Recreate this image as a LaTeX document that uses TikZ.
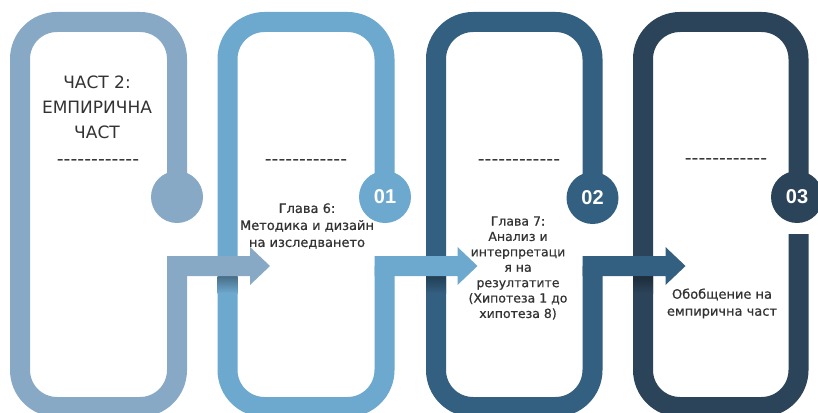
\documentclass[tikz,border=0pt]{standalone}
\usepackage{fontspec}
\newfontfamily\headfont{DejaVu Sans}
\newfontfamily\bodyfont[FakeBold=0.6]{DejaVu Sans}
\newfontfamily\numfont{Liberation Sans}
\definecolor{pa}{HTML}{87A9C5}
\definecolor{pb}{HTML}{6DA8CE}
\definecolor{pc}{HTML}{335F80}
\definecolor{pd}{HTML}{2C4459}
\definecolor{txt}{HTML}{333333}
\tikzset{
  band/.style={line width=20pt, rounded corners=37pt},
  numdot/.style={circle, inner sep=0pt, minimum size=52pt, text=white,
    font=\numfont\bfseries\fontsize{20}{20}\selectfont},
  headtxt/.style={align=center, inner sep=0pt, text=txt,
    font=\headfont\fontsize{17}{25}\selectfont},
  dashtxt/.style={inner sep=0pt, text=txt, font=\headfont\fontsize{19}{19}\selectfont},
  bodytxt/.style={align=center, inner sep=0pt, text=txt}
}
\begin{document}
\begin{tikzpicture}[x=1pt,y=-1pt]
\path[use as bounding box, clip] (0,0) rectangle (818,412);
\fill[white] (0,0) rectangle (818,412);

% panels
\draw[band, draw=pa] (177,197) -- (177,22) -- (20,22) -- (20,407) -- (177,407) -- (177,266);
\draw[band, draw=pb] (384.5,197) -- (384.5,22) -- (227.5,22) -- (227.5,407) -- (384.5,407) -- (384.5,266);
\draw[band, draw=pc] (592.5,197) -- (592.5,22) -- (436,22) -- (436,407) -- (592.5,407) -- (592.5,266);
\draw[band, draw=pd] (798.5,197) -- (798.5,22) -- (643,22) -- (643,407) -- (798.5,407) -- (798.5,234);

% shadows under the arrows on the next panel
\shade[top color=pb!65!black, bottom color=pb] (217.5,276) rectangle (237.5,293);
\shade[top color=pc!65!black, bottom color=pc] (426,276) rectangle (446,293);
\shade[top color=pd!65!black, bottom color=pd] (633,276) rectangle (653,293);

% arrows
\fill[pa] (167,256) -- (250,256) -- (250,247) -- (270,266) -- (250,285) -- (250,276) -- (167,276) -- cycle;
\fill[pb] (374.5,256) -- (457.5,256) -- (457.5,247) -- (477.5,266) -- (457.5,285) -- (457.5,276) -- (374.5,276) -- cycle;
\fill[pc] (582.5,256) -- (665.5,256) -- (665.5,247) -- (685.5,266) -- (665.5,285) -- (665.5,276) -- (582.5,276) -- cycle;

% circles
\node[numdot, fill=pa] (c1) at (177,197) {};
\node[numdot, fill=pb] (c2) at (385,197) {01};
\node[numdot, fill=pc] (c3) at (592.5,198) {02};
\node[numdot, fill=pd] (c4) at (797,197) {03};

% texts
\node[headtxt] (t1) at (97,107) {ЧАСТ 2:\\ЕМПИРИЧНА\\ЧАСТ};
\node[dashtxt] (d1) at (98,163) {-{}-{}-{}-{}-{}-{}-{}-{}-{}-{}-{}-};
\node[dashtxt] (d2) at (306,163) {-{}-{}-{}-{}-{}-{}-{}-{}-{}-{}-{}-};
\node[dashtxt] (d3) at (519,163) {-{}-{}-{}-{}-{}-{}-{}-{}-{}-{}-{}-};
\node[dashtxt] (d4) at (726,162) {-{}-{}-{}-{}-{}-{}-{}-{}-{}-{}-{}-};

\node[bodytxt, font=\bodyfont\fontsize{13}{17}\selectfont] (t2) at (307,226)
  {Глава 6:\\Методика и дизайн\\на изследването};
\node[bodytxt, font=\bodyfont\fontsize{12.5}{15.4}\selectfont] (t3) at (518,268)
  {Глава 7:\\Анализ и\\интерпретаци\\я на\\резултатите\\(Хипотеза 1 до\\хипотеза 8)};
\node[bodytxt, font=\bodyfont\fontsize{13}{17}\selectfont] (t4) at (722,303.5)
  {Обобщение на\\емпирична част};
\end{tikzpicture}
\end{document}
